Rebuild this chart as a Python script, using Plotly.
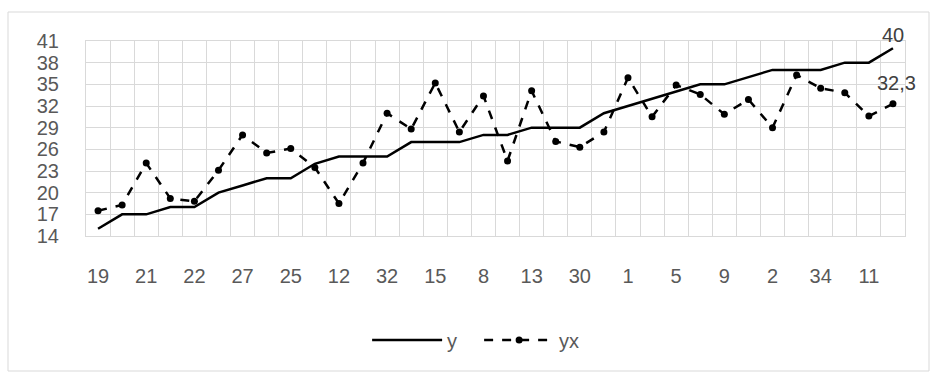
import plotly.graph_objects as go

# Category tick labels (every second category is labelled)
tick_labels = ["19", "21", "22", "27", "25", "12", "32", "15", "8", "13",
               "30", "1", "5", "9", "2", "34", "11"]

y_values = [15, 17, 17, 18, 18, 20, 21, 22, 22, 24, 25, 25, 25, 27, 27, 27, 28,
            28, 29, 29, 29, 31, 32, 33, 34, 35, 35, 36, 37, 37, 37, 38, 38, 40]

yx_values = [17.5, 18.3, 24.1, 19.2, 18.8, 23.1, 28.0, 25.5, 26.1, 23.5, 18.5,
             24.1, 31.0, 28.8, 35.2, 28.4, 33.4, 24.4, 34.1, 27.1, 26.3, 28.4,
             35.9, 30.5, 34.9, 33.6, 30.85, 32.9, 29.0, 36.3, 34.45, 33.85,
             30.6, 32.3]

n = len(y_values)
xs = list(range(n))
FONT = "Liberation Sans, Arial, sans-serif"
GRAY = "#595959"

fig = go.Figure()
fig.add_trace(go.Scatter(x=xs, y=y_values, name="y", mode="lines",
                         line=dict(color="black", width=2.5)))
fig.add_trace(go.Scatter(x=xs, y=yx_values, name="yx", mode="lines+markers",
                         line=dict(color="black", width=2.5, dash="dash"),
                         marker=dict(color="black", size=7)))

fig.add_annotation(x=xs[-1], y=y_values[-1], text=str(y_values[-1]), showarrow=False,
                   yshift=13, font=dict(family=FONT, size=20, color="#404040"))
fig.add_annotation(x=xs[-1], y=yx_values[-1], text=str(yx_values[-1]).replace(".", ","),
                   showarrow=False, yshift=21, xshift=4,
                   font=dict(family=FONT, size=20, color="#404040"))

fig.update_layout(
    width=930, height=372,
    margin=dict(l=86, r=25, t=41, b=136, autoexpand=False),
    paper_bgcolor="white", plot_bgcolor="white",
    font=dict(family=FONT, size=20, color=GRAY),
    showlegend=True,
    legend=dict(orientation="h", x=0.48, xanchor="center", y=-0.533, yanchor="middle",
                font=dict(family=FONT, size=20, color=GRAY), itemwidth=70,
                entrywidth=27, traceorder="normal"),
    shapes=[dict(type="rect", xref="paper", yref="paper",
                 x0=(8 - 86) / 819, x1=(929 - 86) / 819,
                 y0=(236 - 371) / 195, y1=(236 - 12) / 195,
                 line=dict(color="#d9d9d9", width=1), layer="below")],
)

fig.update_xaxes(
    range=[-0.5, n - 0.5], automargin=False,
    tickmode="array", tickvals=xs[::2], ticktext=tick_labels,
    showgrid=False, zeroline=False, ticks="",
    ticklabelstandoff=22,
    minor=dict(tick0=-0.5, dtick=1, showgrid=True, gridcolor="#d9d9d9", gridwidth=1),
    showline=True, linecolor="#d9d9d9", mirror=True,
)
fig.update_yaxes(
    range=[14, 41], tick0=14, dtick=3, automargin=False,
    showgrid=True, gridcolor="#d9d9d9", gridwidth=1, zeroline=False, ticks="",
    ticklabelstandoff=22,
    showline=True, linecolor="#d9d9d9", mirror=True,
)

fig.write_html("out.html", config={"displayModeBar": False},
               post_script="document.body.style.margin='0';document.body.style.overflow='hidden';")
